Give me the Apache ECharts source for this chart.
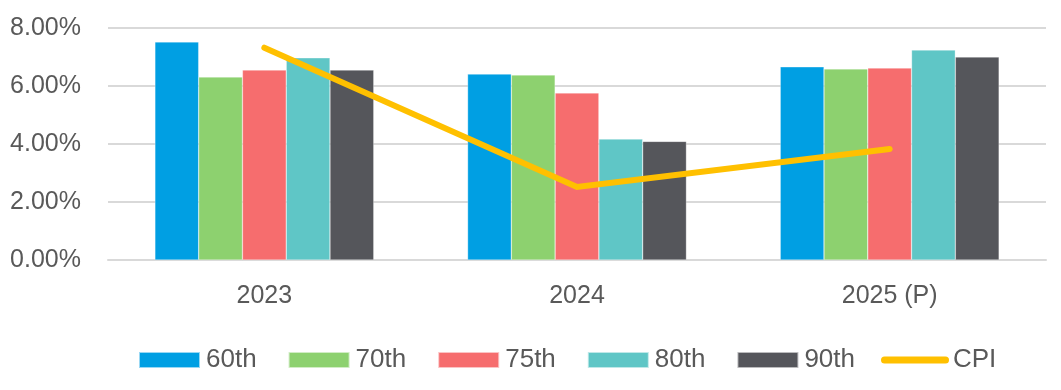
<!DOCTYPE html>
<html><head><meta charset="utf-8">
<script src="https://cdn.jsdelivr.net/npm/echarts@6/dist/echarts.min.js"></script>
<style>html,body{margin:0;padding:0;background:#fff}#c{width:1061px;height:390px}</style>
</head><body><div id="c"></div>
<script>
const categories = ['2023', '2024', '2025 (P)'];
const p60 = [7.52, 6.41, 6.66];
const p70 = [6.31, 6.38, 6.59];
const p75 = [6.55, 5.76, 6.62];
const p80 = [6.97, 4.17, 7.24];
const p90 = [6.55, 4.09, 7.00];
const cpi = [7.32, 2.52, 3.83];
const seriesNames = ['60th', '70th', '75th', '80th', '90th'];
const colors = ['#009FE3', '#8DD16F', '#F66D6E', '#5FC6C6', '#55565B'];
const barData = [p60, p70, p75, p80, p90];

const font = '"Liberation Sans", Arial, sans-serif';
const chart = echarts.init(document.getElementById('c'));
const series = barData.map((d, i) => ({
  name: seriesNames[i], type: 'bar', data: d,
  barGap: '0%', barCategoryGap: '30%',
  itemStyle: { color: colors[i], borderColor: 'rgba(255,255,255,0.6)', borderWidth: 0.5 },
  emphasis: { disabled: true }
}));
series.push({
  name: 'CPI', type: 'line', data: cpi, symbol: 'none',
  lineStyle: { color: '#FFC000', width: 6, cap: 'round', join: 'miter' },
  itemStyle: { color: '#FFC000' }, z: 5
});
const legendText = { fontFamily: font, fontSize: 26, color: '#595959' };
chart.setOption({
  animation: false,
  grid: { left: 108, right: 15, top: 28, bottom: 130 },
  legend: [{
    top: 347, left: 138, padding: 0, itemWidth: 61, itemHeight: 16, itemGap: 31,
    textStyle: Object.assign({ padding: [0, 0, 0, 1] }, legendText),
    data: seriesNames.map(n => ({ name: n, icon: 'rect' }))
  }, {
    top: 347, left: 881, padding: 0, itemWidth: 68, itemHeight: 7,
    textStyle: Object.assign({ padding: [0, 0, 0, -1] }, legendText),
    data: [{ name: 'CPI', icon: 'path://M3.5,0 L64.5,0 A3.5,3.5 0 0 1 64.5,7 L3.5,7 A3.5,3.5 0 0 1 3.5,0 Z' }]
  }],
  xAxis: {
    type: 'category', data: categories,
    axisLine: { show: true, lineStyle: { color: '#D9D9D9', width: 2 } },
    axisTick: { show: false },
    axisLabel: { fontFamily: font, fontSize: 25, color: '#595959', margin: 24 }
  },
  yAxis: {
    type: 'value', min: 0, max: 8, interval: 2,
    axisLine: { show: false }, axisTick: { show: false },
    splitLine: { lineStyle: { color: '#D9D9D9', width: 2 } },
    axisLabel: { fontFamily: font, fontSize: 25, color: '#595959', margin: 27,
      formatter: v => v.toFixed(2) + '%' }
  },
  series
});
</script></body></html>
